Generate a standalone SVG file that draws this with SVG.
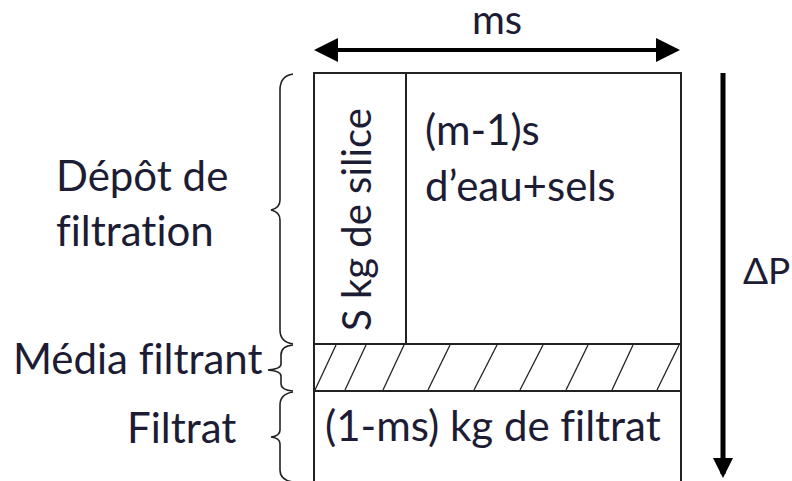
<svg xmlns="http://www.w3.org/2000/svg" width="792" height="481" viewBox="0 0 792 481">
<defs>
<style>
text{font-family:Lato,"Liberation Sans",sans-serif;font-size:42px;fill:#1c1c34;font-variant-ligatures:none}
.ln{stroke:#222;stroke-width:2;fill:none}
.br{stroke:#222;stroke-width:1.6;fill:none}
.h{stroke:#222;stroke-width:1.3}
</style>
<marker id="ah" markerWidth="6" markerHeight="6" refX="5" refY="3" orient="auto-start-reverse" markerUnits="strokeWidth"><path d="M0,0 L6,3 L0,6 z" fill="#000"/></marker>
<marker id="ah2" markerWidth="4" markerHeight="4" refX="3.2" refY="2" orient="auto" markerUnits="strokeWidth"><path d="M0,0 L4,2 L0,4 z" fill="#000"/></marker>
</defs>
<rect width="792" height="481" fill="#fff"/>
<g id="connectors">
<line x1="318" y1="50" x2="676" y2="50" stroke="#000" stroke-width="4" marker-start="url(#ah)" marker-end="url(#ah)"/>
<line x1="723" y1="73" x2="723" y2="474" stroke="#000" stroke-width="5" marker-end="url(#ah2)"/>
</g>
<g id="ms"><text x="497" y="34" text-anchor="middle" style="font-size:40px">ms</text></g>
<g id="deltaP"><text x="743" y="284" style="font-size:37px">ΔP</text></g>
<g id="depot">
<rect x="314" y="73" width="367" height="271" class="ln"/>
<line x1="406" y1="73" x2="406" y2="344" class="ln"/>
<text transform="translate(371,331) rotate(-90)" style="font-size:40px">S kg de silice</text>
<text x="425" y="145">(m-1)s</text>
<text x="425" y="201">d’eau+sels</text>
</g>
<g id="media">
<rect x="314" y="344" width="367" height="47" class="ln"/>
<line class="h" x1="315" y1="390" x2="336" y2="345"/>
<line class="h" x1="345" y1="390" x2="366" y2="345"/>
<line class="h" x1="383" y1="390" x2="404" y2="345"/>
<line class="h" x1="428" y1="390" x2="450" y2="345"/>
<line class="h" x1="474" y1="390" x2="497" y2="345"/>
<line class="h" x1="520" y1="390" x2="543" y2="345"/>
<line class="h" x1="566" y1="390" x2="588" y2="345"/>
<line class="h" x1="612" y1="390" x2="633" y2="345"/>
<line class="h" x1="657" y1="390" x2="679" y2="345"/>
</g>
<g id="filtrat">
<rect x="314" y="391" width="367" height="95" class="ln"/>
<text x="325" y="441">(1-ms) kg de filtrat</text>
</g>
<g id="label-depot">
<path class="br" d="M293,74 Q280,76 280,90 L280,200 Q280,208 271,210 Q280,212 280,220 L280,330 Q280,342 293,344"/>
<text x="56" y="191">Dépôt de</text>
<text x="56" y="246">filtration</text>
</g>
<g id="label-media">
<path class="br" d="M293,345 Q281,346 281,355 L281,364 Q281,369 268,370 Q281,371 281,376 L281,384 Q281,390 293,391"/>
<text x="13" y="374">Média filtrant</text>
</g>
<g id="label-filtrat">
<path class="br" d="M293,392 Q280,394 280,405 L280,430 Q280,436 271,437 Q280,438 280,444 L280,470 Q280,480 293,482"/>
<text x="127" y="443">Filtrat</text>
</g>
</svg>
